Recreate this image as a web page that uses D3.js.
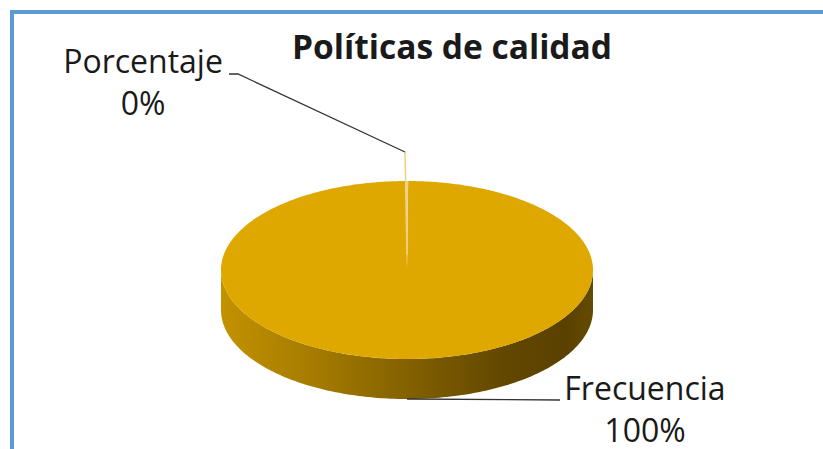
<!DOCTYPE html>
<html>
<head>
<meta charset="utf-8">
<script src="https://cdn.jsdelivr.net/npm/d3@7"></script>
<style>
  html, body { margin: 0; padding: 0; background: #ffffff; }
  svg { display: block; }
  text { font-family: "Open Sans", Lato, sans-serif; fill: #1a1a1a; }
</style>
</head>
<body>
<svg id="chart" width="823" height="449"></svg>
<script>
// Chart data
const title = "Políticas de calidad";
const categories = ["Frecuencia", "Porcentaje"];
const values = [500, 1];

const W = 823, H = 449;
const svg = d3.select("#chart");

// Frame
svg.append("rect")
  .attr("x", 12).attr("y", 12)
  .attr("width", W + 40).attr("height", H + 40)
  .attr("fill", "#ffffff")
  .attr("stroke", "#5b9bd5").attr("stroke-width", 4);

// Title
svg.append("text")
  .attr("x", 452).attr("y", 59)
  .attr("text-anchor", "middle")
  .attr("font-size", 33.5).attr("font-weight", "bold")
  .text(title);

// 3D pie geometry
const cx = 407, cy = 270, rx = 186, ry = 89, depth = 40;
const total = d3.sum(values);
const pct = d3.format(".0%");

// Pie starts at 12 o'clock, clockwise; the small slice is centred on the top
const offset = Math.PI * values[1] / total;
const pie = d3.pie().sort(null).value(d => d.value)
  .startAngle(offset).endAngle(2 * Math.PI + offset);
const data = categories.map((c, i) => ({ name: c, value: values[i] }));
const arcs = pie(data);

const px = a => cx + rx * Math.sin(a);
const py = (a, dz = 0) => cy - ry * Math.cos(a) + dz;

const defs = svg.append("defs");
const grad = defs.append("linearGradient").attr("id", "sideGrad")
  .attr("gradientUnits", "userSpaceOnUse")
  .attr("x1", cx - rx).attr("x2", cx + rx).attr("y1", 0).attr("y2", 0);
[[0, "#c39200"], [0.25, "#a57b00"], [0.5, "#836100"], [0.75, "#634800"], [0.93, "#5a4100"], [1, "#654b00"]]
  .forEach(([o, c]) => grad.append("stop").attr("offset", o).attr("stop-color", c));

// Side wall (front half of the extrusion)
const sideSteps = d3.range(0, 181).map(i => Math.PI / 2 + i * Math.PI / 180);
const sidePts = sideSteps.map(a => [px(a), py(a)])
  .concat(sideSteps.slice().reverse().map(a => [px(a), py(a, depth)]));
svg.append("path")
  .attr("d", d3.line()(sidePts) + "Z")
  .attr("fill", "url(#sideGrad)");

// Top face slices
const topColors = { Frecuencia: "#dfa800", Porcentaje: "#f0cf86" };
arcs.forEach(d => {
  const n = Math.max(2, Math.ceil((d.endAngle - d.startAngle) / 0.01));
  const pts = [[cx, cy]].concat(d3.range(n + 1).map(i => {
    const a = d.startAngle + (d.endAngle - d.startAngle) * i / n;
    return [px(a), py(a)];
  }));
  svg.append("path")
    .attr("d", d3.line()(pts) + "Z")
    .attr("fill", topColors[d.data.name]);
});

// Thin slice edge and its leader
const small = arcs[1];
const mid = (small.startAngle + small.endAngle) / 2;
const elbow = [px(mid) - 2, py(mid) - 29];
svg.append("line")
  .attr("x1", cx).attr("y1", cy - 16)
  .attr("x2", elbow[0]).attr("y2", elbow[1])
  .attr("stroke", "#f0cf86").attr("stroke-width", 1.5);
svg.append("path")
  .attr("d", d3.line()([elbow, [238, 74], [229, 74]]))
  .attr("fill", "none").attr("stroke", "#333333").attr("stroke-width", 1.3);

// Large slice leader from the front edge
const big = arcs[0];
const bmid = (big.startAngle + big.endAngle) / 2;
svg.append("path")
  .attr("d", d3.line()([[px(bmid), py(bmid, depth)], [560, 400]]))
  .attr("fill", "none").attr("stroke", "#333333").attr("stroke-width", 1.3);

// Data labels
function label(x, y, d) {
  const t = svg.append("text").attr("x", x).attr("y", y)
    .attr("text-anchor", "middle").attr("font-size", 32);
  t.append("tspan").attr("x", x).text(d.data.name);
  t.append("tspan").attr("x", x).attr("dy", 42).text(pct(d.value / total));
}
label(143, 73, small);
label(645, 400, big);
</script>
</body>
</html>
